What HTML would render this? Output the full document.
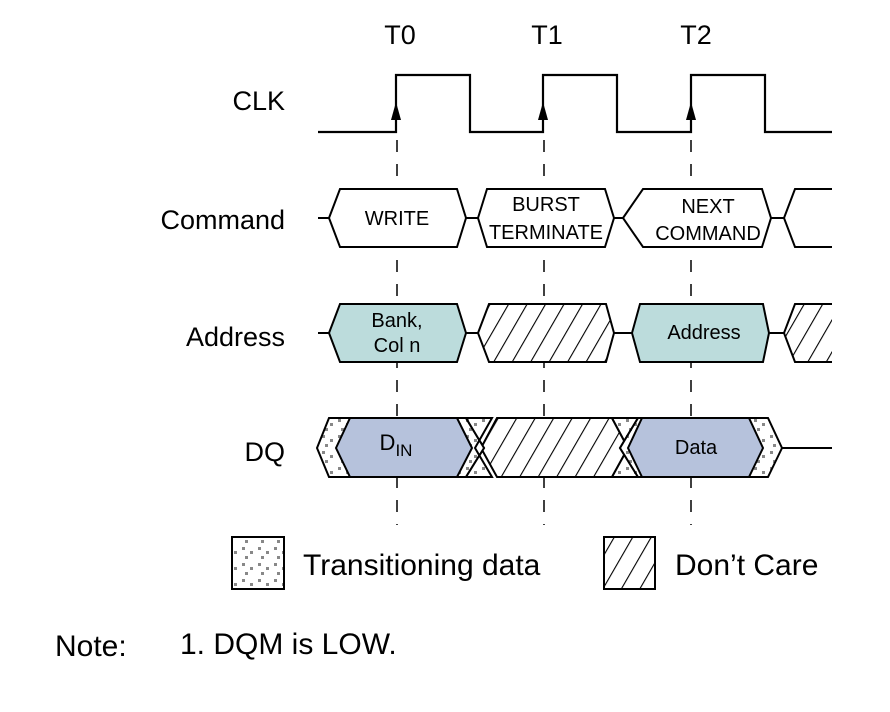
<!DOCTYPE html>
<html><head><meta charset="utf-8"><style>
html,body{margin:0;padding:0;background:#fff}
svg{display:block}
text{font-family:"Liberation Sans",sans-serif;fill:#000}
</style></head><body>
<svg width="890" height="712" viewBox="0 0 890 712" xmlns="http://www.w3.org/2000/svg">
<defs>
<pattern id="hatch" patternUnits="userSpaceOnUse" width="16" height="16" patternTransform="rotate(30)">
<rect width="16" height="16" fill="#fff"/><line x1="0" y1="0" x2="0" y2="16" stroke="#000" stroke-width="2.2"/>
</pattern>
<pattern id="dots" patternUnits="userSpaceOnUse" width="16" height="16">
<rect width="16" height="16" fill="#fff"/>
<rect x="2" y="3" width="3" height="3" fill="#888"/><rect x="10" y="7" width="3" height="3" fill="#888"/><rect x="5" y="12" width="3" height="3" fill="#888"/>
</pattern>
</defs>
<g font-size="27">
<text x="400" y="44" text-anchor="middle">T0</text>
<text x="547" y="44" text-anchor="middle">T1</text>
<text x="696" y="44" text-anchor="middle">T2</text>
<text x="285" y="110" text-anchor="end">CLK</text>
<text x="285" y="229" text-anchor="end">Command</text>
<text x="285" y="346" text-anchor="end">Address</text>
<text x="285" y="461" text-anchor="end">DQ</text>
</g>
<g stroke="#000" stroke-width="1.5" stroke-dasharray="12,12">
<line x1="397" y1="140" x2="397" y2="525"/>
<line x1="544" y1="140" x2="544" y2="525"/>
<line x1="691" y1="140" x2="691" y2="525"/>
</g>
<polyline fill="none" stroke="#000" stroke-width="2.2" points="318,132 396,132 396,75 470,75 470,132 543,132 543,75 617,75 617,132 691,132 691,75 765,75 765,132 832,132"/>
<g fill="#000">
<polygon points="396,102 391,120 401,120"/><polygon points="543,102 538,120 548,120"/><polygon points="691,102 686,120 696,120"/>
</g>
<g stroke="#000" stroke-width="2" fill="none">
<line x1="318" y1="218" x2="329" y2="218"/><line x1="466" y1="218" x2="478" y2="218"/><line x1="614" y1="218" x2="623" y2="218"/><line x1="771" y1="218" x2="784" y2="218"/>
<polygon fill="#fff" points="329,218 340,189 457,189 466,218 457,247 340,247"/>
<polygon fill="#fff" points="478,218 487,189 605,189 614,218 605,247 487,247"/>
<polygon fill="#fff" points="623,218 643,189 762,189 771,218 762,247 643,247"/>
<polyline points="832,189 795,189 784,218 795,247 832,247"/>
<line x1="318" y1="333" x2="329" y2="333"/><line x1="466" y1="333" x2="478" y2="333"/><line x1="614" y1="333" x2="632" y2="333"/><line x1="769" y1="333" x2="784" y2="333"/>
<polygon fill="#bcdcdc" points="329,333 340,304 457,304 466,333 457,362 340,362"/>
<polygon fill="url(#hatch)" points="478,333 489,304 606,304 614,333 606,362 489,362"/>
<polygon fill="#bcdcdc" points="632,333 640,304 763,304 769,333 763,362 640,362"/>
<path fill="url(#hatch)" d="M832,304 L795,304 L784,333 L795,362 L832,362"/>
<polygon fill="url(#hatch)" points="481,448 497,418 612,418 628,448 612,477 497,477"/>
<polygon fill="url(#dots)" points="317,448 329,418 466,418 484,448 466,477 329,477"/>
<polygon fill="url(#dots)" points="466,418 492,418 475,448 492,477 466,477 484,448"/>
<polygon fill="url(#dots)" points="612,418 638,418 620,448 638,477 612,477 628,448"/>
<polygon fill="url(#dots)" points="620,448 638,418 768,418 782,448 768,477 638,477"/>
<polygon fill="#b6c2dc" points="336,448 350,418 457,418 472,448 457,477 350,477"/>
<polygon fill="#b6c2dc" points="628,448 642,418 749,418 763,448 749,477 642,477"/>
<line x1="782" y1="448" x2="832" y2="448"/>
<rect x="232" y="537" width="52" height="52" fill="url(#dots)"/>
<rect x="604" y="537" width="51" height="52" fill="url(#hatch)"/>
</g>
<g font-size="20" text-anchor="middle">
<text x="397" y="225">WRITE</text>
<text x="546" y="211">BURST</text>
<text x="546" y="239">TERMINATE</text>
<text x="708" y="213">NEXT</text>
<text x="708" y="240">COMMAND</text>
<text x="397" y="327">Bank,</text>
<text x="397" y="352">Col n</text>
<text x="704" y="339">Address</text>
<text x="696" y="454">Data</text>
<text x="396" y="450" font-size="22">D<tspan font-size="17" dy="6">IN</tspan></text>
</g>
<g font-size="30">
<text x="303" y="575">Transitioning data</text>
<text x="675" y="575">Don’t Care</text>
<text x="55" y="656">Note:</text>
<text x="180" y="654">1.  DQM is LOW.</text>
</g>
</svg>
</body></html>
